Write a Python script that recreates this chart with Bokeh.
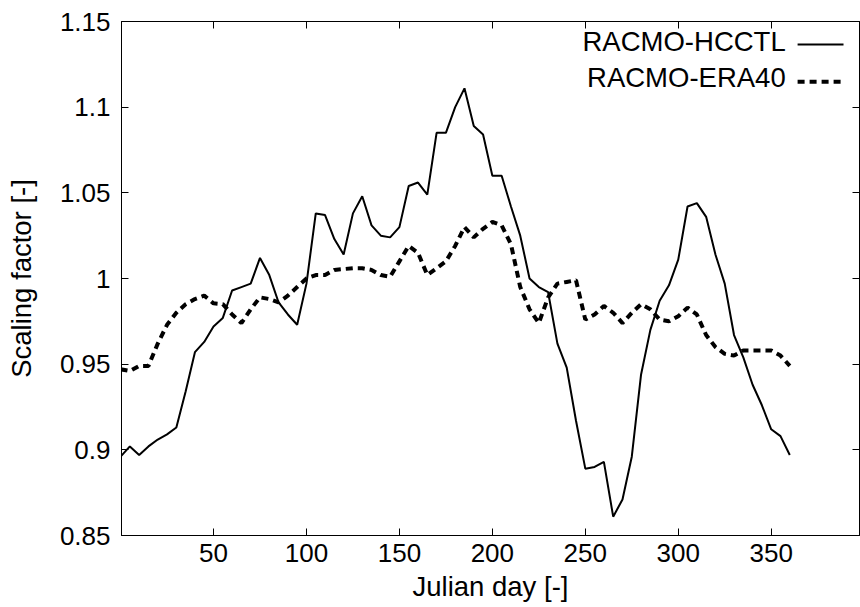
from bokeh.plotting import figure
from bokeh.models import (Range1d, FixedTicker, LinearAxis, NumeralTickFormatter,
                          Label, Arrow, ColumnDataSource)
from bokeh.embed import file_html
from bokeh.resources import INLINE

days = [0, 5, 10, 15, 20, 25, 30, 35, 40, 45,
        50, 55, 60, 65, 70, 75, 80, 85, 90, 95,
        100, 105, 110, 115, 120, 125, 130, 135, 140, 145,
        150, 155, 160, 165, 170, 175, 180, 185, 190, 195,
        200, 205, 210, 215, 220, 225, 230, 235, 240, 245,
        250, 255, 260, 265, 270, 275, 280, 285, 290, 295,
        300, 305, 310, 315, 320, 325, 330, 335, 340, 345,
        350, 355, 360]

racmo_hcctl = [0.896, 0.902, 0.897, 0.902, 0.906, 0.909, 0.913, 0.934, 0.957, 0.963,
               0.972, 0.977, 0.993, 0.995, 0.997, 1.012, 1.002, 0.986, 0.979, 0.973,
               0.997, 1.038, 1.037, 1.023, 1.014, 1.038, 1.048, 1.031, 1.025, 1.024,
               1.030, 1.054, 1.056, 1.049, 1.085, 1.085, 1.100, 1.111, 1.089, 1.084,
               1.060, 1.060, 1.042, 1.025, 1.000, 0.995, 0.992, 0.962, 0.948, 0.917,
               0.889, 0.890, 0.893, 0.861, 0.871, 0.896, 0.944, 0.970, 0.987, 0.996,
               1.011, 1.042, 1.044, 1.036, 1.014, 0.997, 0.967, 0.954, 0.938, 0.926,
               0.912, 0.908, 0.897]

racmo_era40 = [0.947, 0.946, 0.949, 0.949, 0.962, 0.973, 0.980, 0.985, 0.988, 0.990,
               0.9855, 0.985, 0.979, 0.974, 0.982, 0.989, 0.988, 0.986, 0.990, 0.995,
               1.000, 1.002, 1.002, 1.005, 1.0055, 1.006, 1.006, 1.005, 1.002, 1.001,
               1.010, 1.019, 1.015, 1.002, 1.006, 1.010, 1.019, 1.030, 1.024, 1.029,
               1.033, 1.031, 1.020, 0.995, 0.982, 0.974, 0.989, 0.997, 0.998, 0.999,
               0.976, 0.979, 0.984, 0.980, 0.974, 0.980, 0.985, 0.982, 0.976, 0.975,
               0.978, 0.983, 0.979, 0.967, 0.960, 0.956, 0.955, 0.958, 0.958, 0.958,
               0.958, 0.955, 0.949]

x_ticks = [50, 100, 150, 200, 250, 300, 350]
y_ticks = [0.85, 0.9, 0.95, 1.0, 1.05, 1.1, 1.15]
series_names = ["RACMO-HCCTL", "RACMO-ERA40"]

FONT = "Liberation Sans"
FS = "26px"
FS_BIG = "27.5px"

src = ColumnDataSource(dict(day=days, hcctl=racmo_hcctl, era40=racmo_era40))

p = figure(width=860, height=607, output_backend="svg", toolbar_location=None,
           x_range=Range1d(0.5, 397.5), y_range=Range1d(0.85, 1.15),
           frame_width=738, frame_height=514,
           min_border_left=121, min_border_right=1, min_border_top=21, min_border_bottom=72)

p.xgrid.visible = False
p.ygrid.visible = False
p.outline_line_color = "black"
p.outline_line_width = 1
p.background_fill_color = "white"
p.border_fill_color = "white"

p.line("day", "hcctl", source=src, line_color="black", line_width=2)
p.line("day", "era40", source=src, line_color="black", line_width=4, line_dash="7 5")

for ax in (p.xaxis[0], p.yaxis[0]):
    ax.major_tick_in = 7
    ax.major_tick_out = 0
    ax.minor_tick_line_color = None
    ax.axis_line_color = "black"
    ax.major_tick_line_color = "black"
    ax.major_label_text_font = FONT
    ax.major_label_text_font_size = FS
    ax.major_label_text_color = "black"
    ax.axis_label_text_font = FONT
    ax.axis_label_text_font_size = FS_BIG
    ax.axis_label_text_font_style = "normal"
    ax.axis_label_text_color = "black"

p.xaxis[0].ticker = FixedTicker(ticks=x_ticks)
p.yaxis[0].ticker = FixedTicker(ticks=y_ticks)
p.yaxis[0].formatter = NumeralTickFormatter(format="0.[00]")
p.xaxis[0].axis_label = "Julian day [-]"
p.yaxis[0].axis_label = "Scaling factor [-]"
p.xaxis[0].major_label_standoff = 8
p.xaxis[0].axis_label_standoff = 6
p.yaxis[0].major_label_standoff = 11
p.yaxis[0].axis_label_standoff = 20

# mirrored tick marks on the top and right edges (no labels there)
top_ax = LinearAxis(ticker=FixedTicker(ticks=x_ticks), major_label_text_font_size="1px",
                    major_label_text_color=None, major_label_standoff=0,
                    major_tick_in=7, major_tick_out=0,
                    minor_tick_line_color=None, axis_line_color="black")
right_ax = LinearAxis(ticker=FixedTicker(ticks=y_ticks), major_label_text_font_size="1px",
                      major_label_text_color=None, major_label_standoff=0,
                      major_tick_in=7, major_tick_out=0,
                      minor_tick_line_color=None, axis_line_color="black")
p.add_layout(top_ax, "above")
p.add_layout(right_ax, "right")

# key in the upper right: text first, line sample after it
for name, ty, ly, lw, dash in [(series_names[0], 1.1385, 1.1366, 2, "solid"),
                               (series_names[1], 1.1172, 1.1148, 4, "7 5")]:
    p.add_layout(Label(x=357.8, y=ty, text=name, text_align="right", text_baseline="middle",
                       text_font=FONT, text_font_size=FS_BIG, text_color="black"))
    p.add_layout(Arrow(end=None, x_start=364.2, y_start=ly, x_end=388.9, y_end=ly,
                       line_color="black", line_width=lw, line_dash=dash))

open("out.html", "w").write(file_html(p, INLINE))
